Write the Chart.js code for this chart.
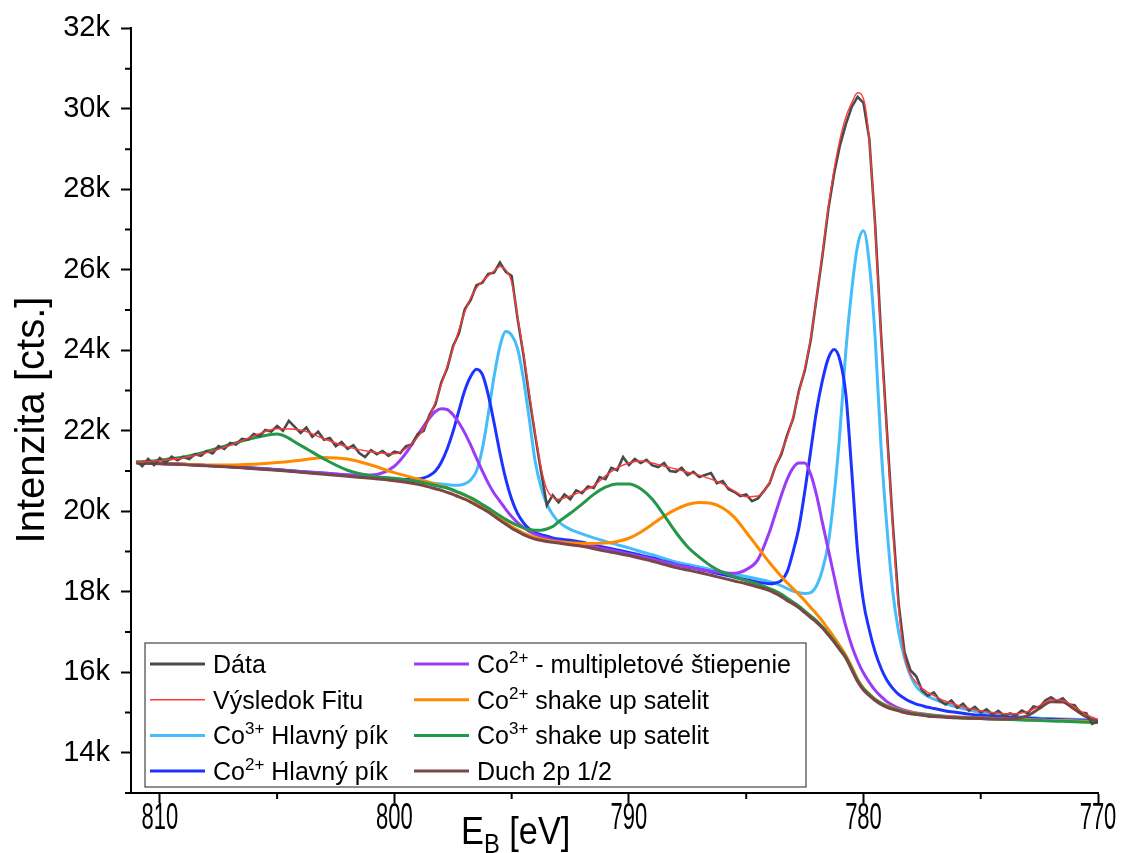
<!DOCTYPE html>
<html>
<head>
<meta charset="utf-8">
<style>
  html, body { margin: 0; padding: 0; background: #fff; }
</style>
</head>
<body>
<canvas id="chart" width="1125" height="853"></canvas>
<script src="https://cdn.jsdelivr.net/npm/chart.js"></script>
<script>
// binding energy grid (eV) for the fitted curves
const energy = [811,810,809,808,807,806,805,804,803,802,801,800,799.5,
  799,798.75,798.5,798.25,798,797.75,797.5,797.25,797,796.75,796.5,796.25,796,795.75,795.5,795.25,795,794.75,794.5,794.25,794,793.75,793.5,793.25,793,
  792.5,792,791.5,791,790.5,790,789.5,789,788.5,788,787.5,787,786.5,786,785.5,785,784.5,
  784,783.75,783.5,783.25,783,782.75,782.5,782.25,782,781.75,781.5,781.25,781,780.75,780.5,780.25,780,779.75,779.5,779.25,779,778.75,778.5,778.25,778,777.75,777.5,777.25,777,
  776.5,776,775.5,775,774.5,774,773.5,773,772.5,772,771.5,771,770.5,770];

// intensities in thousands of counts
const fit = [21.22,21.26,21.33,21.46,21.64,21.87,22.05,22.02,21.80,21.60,21.48,21.43,21.56,
  21.85,22.05,22.35,22.72,23.15,23.60,24.05,24.50,24.95,25.30,25.55,25.72,25.85,25.97,26.08,26.00,25.70,24.85,23.95,22.95,21.95,21.10,20.55,20.35,20.30,
  20.38,20.50,20.63,20.88,21.08,21.20,21.25,21.20,21.12,21.05,20.97,20.90,20.80,20.68,20.50,20.36,20.38,
  20.72,21.10,21.48,21.85,22.35,22.95,23.55,24.30,25.30,26.40,27.55,28.50,29.25,29.80,30.15,30.40,30.25,29.20,27.00,24.30,21.90,19.60,17.60,16.40,15.95,15.75,15.60,15.50,15.42,
  15.28,15.18,15.10,15.04,15.00,14.97,14.97,15.02,15.17,15.32,15.30,15.14,14.95,14.83];

const co3Main = [21.21,21.19,21.17,21.14,21.11,21.08,21.04,20.99,20.95,20.90,20.86,20.81,20.78,
  20.75,20.73,20.71,20.69,20.68,20.66,20.65,20.65,20.68,20.78,21.00,21.55,22.40,23.35,24.10,24.47,24.38,24.05,23.30,22.30,21.25,20.60,20.18,19.92,19.74,
  19.55,19.44,19.34,19.25,19.17,19.09,19.00,18.92,18.83,18.74,18.68,18.62,18.55,18.49,18.43,18.38,18.32,
  18.25,18.21,18.15,18.08,18.02,17.98,17.96,17.98,18.15,18.55,19.20,20.40,22.00,24.00,25.50,26.60,26.97,26.15,24.30,21.60,19.60,18.00,17.00,16.35,15.92,15.65,15.50,15.40,15.33,
  15.22,15.13,15.06,15.00,14.96,14.93,14.90,14.88,14.86,14.85,14.84,14.83,14.82,14.81];

const co2Main = [21.21,21.19,21.17,21.14,21.11,21.07,21.03,20.98,20.94,20.89,20.85,20.80,20.79,
  20.80,20.83,20.89,21.00,21.22,21.55,21.98,22.50,23.00,23.35,23.53,23.40,22.90,22.20,21.45,20.80,20.30,19.95,19.72,19.56,19.47,19.42,19.38,19.34,19.31,
  19.28,19.23,19.16,19.10,19.04,18.98,18.91,18.84,18.76,18.68,18.62,18.56,18.49,18.43,18.36,18.30,18.24,
  18.20,18.22,18.28,18.50,19.00,19.60,20.50,21.50,22.50,23.25,23.80,24.02,23.75,22.90,21.00,19.00,17.75,17.05,16.50,16.10,15.80,15.60,15.45,15.35,15.27,15.21,15.17,15.13,15.10,
  15.04,15.00,14.96,14.93,14.91,14.89,14.87,14.86,14.84,14.83,14.82,14.81,14.80,14.79];

const co2Multiplet = [21.21,21.19,21.17,21.14,21.11,21.07,21.03,20.99,20.95,20.91,20.90,21.12,21.45,
  21.90,22.12,22.32,22.48,22.55,22.53,22.40,22.20,21.95,21.65,21.32,21.00,20.70,20.45,20.25,20.05,19.87,19.72,19.60,19.50,19.43,19.37,19.33,19.29,19.26,
  19.22,19.18,19.12,19.06,19.00,18.94,18.88,18.81,18.74,18.67,18.61,18.56,18.51,18.47,18.46,18.55,18.80,
  19.50,19.95,20.40,20.80,21.08,21.20,21.20,20.92,20.40,19.72,19.05,18.38,17.72,17.14,16.66,16.28,15.98,15.75,15.55,15.40,15.27,15.18,15.11,15.06,15.02,14.99,14.97,14.95,14.93,
  14.91,14.89,14.88,14.87,14.86,14.85,14.84,14.83,14.82,14.81,14.80,14.79,14.78,14.77];

const co2Shake = [21.20,21.19,21.17,21.15,21.15,21.17,21.21,21.27,21.34,21.30,21.15,20.96,20.88,
  20.80,20.76,20.72,20.67,20.63,20.58,20.52,20.46,20.40,20.32,20.23,20.14,20.04,19.93,19.82,19.72,19.62,19.54,19.46,19.40,19.35,19.31,19.28,19.26,19.24,
  19.22,19.20,19.20,19.21,19.25,19.33,19.48,19.68,19.88,20.05,20.17,20.22,20.20,20.08,19.85,19.48,19.10,
  18.72,18.55,18.38,18.22,18.08,17.93,17.78,17.61,17.45,17.27,17.07,16.87,16.65,16.42,16.14,15.83,15.61,15.46,15.33,15.24,15.17,15.12,15.07,15.03,15.00,14.98,14.96,14.94,14.92,
  14.90,14.88,14.87,14.86,14.85,14.84,14.83,14.82,14.81,14.80,14.80,14.79,14.78,14.77];

const co3Shake = [21.22,21.27,21.35,21.49,21.66,21.82,21.92,21.64,21.30,21.02,20.88,20.82,20.78,
  20.74,20.71,20.68,20.64,20.61,20.58,20.53,20.47,20.41,20.34,20.26,20.17,20.08,19.98,19.89,19.80,19.72,19.65,19.59,19.55,19.53,19.53,19.56,19.62,19.74,
  19.95,20.18,20.42,20.60,20.68,20.68,20.56,20.30,19.90,19.48,19.12,18.86,18.64,18.48,18.37,18.28,18.19,
  18.08,18.02,17.94,17.84,17.74,17.64,17.52,17.40,17.28,17.13,16.96,16.78,16.58,16.38,16.09,15.80,15.59,15.45,15.32,15.23,15.15,15.10,15.06,15.02,14.99,14.97,14.95,14.93,14.92,
  14.89,14.87,14.86,14.85,14.84,14.83,14.82,14.81,14.80,14.79,14.78,14.77,14.76,14.75];

const ghost = [21.20,21.18,21.16,21.13,21.10,21.06,21.02,20.97,20.92,20.87,20.82,20.76,20.72,
  20.67,20.64,20.60,20.56,20.52,20.47,20.42,20.36,20.30,20.23,20.15,20.07,19.98,19.88,19.78,19.68,19.58,19.50,19.42,19.36,19.31,19.28,19.25,19.23,19.21,
  19.17,19.13,19.07,19.01,18.96,18.90,18.83,18.76,18.68,18.60,18.54,18.48,18.41,18.34,18.27,18.20,18.12,
  18.03,17.96,17.88,17.78,17.70,17.60,17.48,17.36,17.24,17.10,16.93,16.75,16.55,16.35,16.06,15.77,15.56,15.42,15.30,15.20,15.13,15.08,15.04,15.00,14.97,14.95,14.93,14.91,14.90,
  14.88,14.87,14.86,14.85,14.84,14.84,14.85,14.92,15.10,15.27,15.26,15.08,14.89,14.78];

// measured spectrum, 0.25 eV steps from 811 down to 770
const dataEnergy = [];
for (let e = 811; e >= 770; e -= 0.25) dataEnergy.push(e);
const measured = [21.25,21.12,21.30,21.15,21.32,21.20,21.36,21.27,21.35,21.30,21.42,21.38,21.50,21.44,21.62,21.55,
  21.70,21.66,21.80,21.78,21.92,21.87,22.02,21.98,22.12,22.00,22.25,22.10,21.95,22.08,21.85,21.98,
  21.78,21.82,21.62,21.72,21.55,21.64,21.45,21.35,21.52,21.42,21.50,21.38,21.48,21.45,21.62,21.66,
  21.92,22.00,22.40,22.66,23.20,23.55,24.10,24.42,25.02,25.25,25.62,25.68,25.90,25.93,26.18,25.95,
  25.85,24.80,23.90,22.85,21.90,21.00,20.15,20.40,20.22,20.42,20.30,20.52,20.45,20.62,20.58,20.85,
  20.80,21.08,21.02,21.35,21.15,21.30,21.20,21.28,21.14,21.10,21.20,21.00,20.98,21.08,20.90,20.98,
  20.85,20.90,20.95,20.70,20.75,20.55,20.48,20.38,20.42,20.25,20.32,20.50,20.70,21.12,21.42,21.90,
  22.30,23.00,23.50,24.25,25.30,26.35,27.50,28.40,29.10,29.62,30.05,30.30,30.15,29.25,27.10,24.40,
  22.00,19.70,17.70,16.50,16.05,15.90,15.55,15.42,15.50,15.30,15.20,15.30,15.12,15.22,15.05,15.14,
  15.00,15.08,14.95,15.04,14.92,14.98,14.93,15.05,14.98,15.15,15.12,15.30,15.38,15.28,15.35,15.20,
  15.18,15.00,14.98,14.72,14.78];

const seriesNames = ['Dáta', 'Výsledok Fitu', 'Co3+ Hlavný pík', 'Co2+ Hlavný pík',
  'Co2+ - multipletové štiepenie', 'Co2+ shake up satelit', 'Co3+ shake up satelit', 'Duch 2p 1/2'];
const seriesColors = ['#4a4a4a', '#ff3a3a', '#45bdfb', '#1d33ff', '#9a3cf5', '#ff8a00', '#23974a', '#7a4646'];

const xMajor = [810, 800, 790, 780, 770];
const xMinor = [805, 795, 785, 775];
const yMajor = [14, 16, 18, 20, 22, 24, 26, 28, 30, 32];
const yMinor = [13, 15, 17, 19, 21, 23, 25, 27, 29, 31];

const pts = (xs, ys) => xs.map((e, i) => ({ x: e, y: ys[i] }));
const curves = [fit, co3Main, co2Main, co2Multiplet, co2Shake, co3Shake, ghost];

const datasets = [{
  label: seriesNames[0], data: pts(dataEnergy, measured), borderColor: seriesColors[0],
  borderWidth: 2.6, tension: 0, order: 1
}];
curves.forEach((c, i) => {
  datasets.push({
    label: seriesNames[i + 1], data: pts(energy, c), borderColor: seriesColors[i + 1],
    borderWidth: i === 0 ? 1.4 : 3, cubicInterpolationMode: 'monotone',
    order: i === 0 ? 0 : 9 - i
  });
});

const FONT = '"Liberation Sans", Arial, sans-serif';

function drawLabel(ctx, text, x, y) {
  // "Co3+ ..." gets a superscript charge
  const m = text.match(/^Co(\d\+)(.*)$/);
  ctx.font = '25px ' + FONT;
  if (!m) { ctx.fillText(text, x, y); return; }
  ctx.fillText('Co', x, y);
  let w = ctx.measureText('Co').width;
  ctx.font = '17px ' + FONT;
  ctx.fillText(m[1], x + w, y - 10);
  w += ctx.measureText(m[1]).width;
  ctx.font = '25px ' + FONT;
  ctx.fillText(m[2], x + w, y);
}

const decor = {
  id: 'decor',
  afterDraw(chart) {
    const { ctx, chartArea: a, scales: { x, y } } = chart;
    ctx.save();
    ctx.strokeStyle = '#000';
    ctx.lineWidth = 2;
    ctx.beginPath();
    xMinor.forEach(v => { const p = x.getPixelForValue(v); ctx.moveTo(p, a.bottom); ctx.lineTo(p, a.bottom + 6); });
    yMinor.forEach(v => { const p = y.getPixelForValue(v); ctx.moveTo(a.left, p); ctx.lineTo(a.left - 6, p); });
    ctx.stroke();

    ctx.fillStyle = '#000';
    ctx.textBaseline = 'alphabetic';

    // x tick labels, condensed
    xMajor.forEach(v => {
      ctx.save();
      ctx.translate(x.getPixelForValue(v), 829);
      ctx.scale(0.61, 1);
      ctx.textAlign = 'center';
      ctx.font = '36px ' + FONT;
      ctx.fillText(String(v), 0, 0);
      ctx.restore();
    });

    // axis titles
    ctx.save();
    ctx.translate(44, 420);
    ctx.rotate(-Math.PI / 2);
    ctx.textAlign = 'center';
    ctx.font = '40px ' + FONT;
    ctx.fillText('Intenzita [cts.]', 0, 0);
    ctx.restore();

    ctx.save();
    ctx.translate(461, 844);
    ctx.scale(0.88, 1);
    ctx.textAlign = 'left';
    ctx.font = '39px ' + FONT;
    ctx.fillText('E', 0, 0);
    let w = ctx.measureText('E').width;
    ctx.font = '27px ' + FONT;
    ctx.fillText('B', w, 9);
    w += ctx.measureText('B').width;
    ctx.font = '39px ' + FONT;
    ctx.fillText(' [eV]', w, 0);
    ctx.restore();

    // legend box
    const bx = a.left + 14, by = 643, bw = 661, bh = 144;
    ctx.fillStyle = '#fff';
    ctx.fillRect(bx, by, bw, bh);
    ctx.strokeStyle = '#444';
    ctx.lineWidth = 1.2;
    ctx.strokeRect(bx, by, bw, bh);
    ctx.textAlign = 'left';
    seriesNames.forEach((name, i) => {
      const col = Math.floor(i / 4), row = i % 4;
      const lx = bx + 5 + col * 264;
      const ly = by + 21 + row * 35.7;
      ctx.strokeStyle = seriesColors[i];
      ctx.lineWidth = i === 1 ? 1.6 : 3;
      ctx.beginPath();
      ctx.moveTo(lx, ly);
      ctx.lineTo(lx + 55, ly);
      ctx.stroke();
      ctx.fillStyle = '#000';
      drawLabel(ctx, name, lx + 63, ly + 9);
    });
    ctx.restore();
  }
};

new Chart(document.getElementById('chart'), {
  type: 'line',
  data: { datasets },
  options: {
    responsive: false,
    devicePixelRatio: 1,
    animation: false,
    layout: { padding: { top: 27, right: 27, left: 0, bottom: 0 } },
    elements: { point: { radius: 0 } },
    plugins: { legend: { display: false }, tooltip: { enabled: false } },
    scales: {
      x: {
        type: 'linear', reverse: true, min: 770, max: 811.23,
        afterBuildTicks: s => { s.ticks = xMajor.map(v => ({ value: v })); },
        afterFit: s => { s.height = 60; },
        border: { color: '#000', width: 2 },
        grid: { drawOnChartArea: false, tickLength: 10, tickColor: '#000', tickWidth: 2 },
        ticks: { display: false }
      },
      y: {
        type: 'linear', min: 13, max: 32,
        afterBuildTicks: s => { s.ticks = yMajor.map(v => ({ value: v })); },
        afterFit: s => { s.width = 131; },
        border: { color: '#000', width: 2 },
        grid: { drawOnChartArea: false, tickLength: 10, tickColor: '#000', tickWidth: 2 },
        ticks: { color: '#000', padding: 11, callback: v => v + 'k', font: { family: FONT, size: 29 } }
      }
    }
  },
  plugins: [decor]
});
</script>
</body>
</html>
